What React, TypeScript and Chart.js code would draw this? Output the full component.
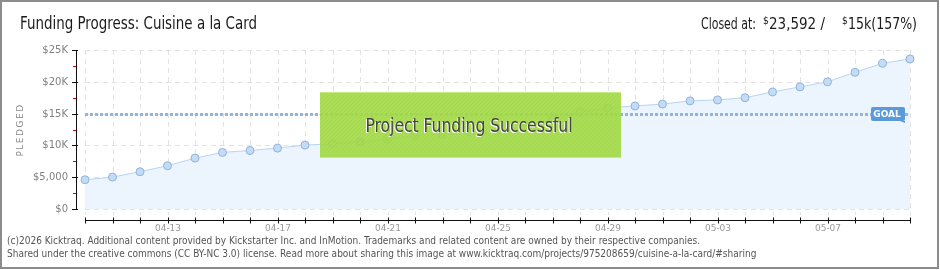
import React, { useEffect, useRef } from "react";
import { Chart, registerables } from "chart.js";

Chart.register(...registerables);

const DATES = [
  "04-10", "04-11", "04-12", "04-13", "04-14", "04-15", "04-16", "04-17",
  "04-18", "04-19", "04-20", "04-21", "04-22", "04-23", "04-24", "04-25",
  "04-26", "04-27", "04-28", "04-29", "04-30", "05-01", "05-02", "05-03",
  "05-04", "05-05", "05-06", "05-07", "05-08", "05-09", "05-10",
];
const PLEDGED = [
  4600, 5020, 5860, 6800, 8000, 8900, 9200, 9570, 10050, 10250, 10550,
  11000, 11550, 11700, 12100, 12100, 13000, 14200, 15300, 15900, 16200,
  16500, 17000, 17150, 17500, 18400, 19200, 20000, 21500, 22900, 23592,
];
const Y_TICKS = [0, 5000, 10000, 15000, 20000, 25000];
const Y_TICK_LABELS = ["$0", "$5,000", "$10K", "$15K", "$20K", "$25K"];
const Y_MINOR_TICKS = [2500, 7500, 12500, 17500, 22500];
const X_TICK_LABELS = ["04-13", "04-17", "04-21", "04-25", "04-29", "05-03", "05-07"];
const GOAL = 15000;
const TITLE = "Funding Progress: Cuisine a la Card";
const CLOSED_LABEL = "Closed at:";
const CLOSED_AMOUNT = "23,592 /";
const GOAL_TEXT = "15k(157%)";
const BANNER = "Project Funding Successful";
const FOOTER = [
  "(c)2026 Kicktraq. Additional content provided by Kickstarter Inc. and InMotion. Trademarks and related content are owned by their respective companies.",
  "Shared under the creative commons (CC BY-NC 3.0) license. Read more about sharing this image at www.kicktraq.com/projects/975208659/cuisine-a-la-card/#sharing",
];

const NARROW = '"Liberation Sans Narrow", "DejaVu Sans Condensed", sans-serif';
const PIX = '"DejaVu Sans", sans-serif';

const decor = {
  id: "decor",
  beforeDatasetsDraw(chart: any) {
    const ctx = chart.ctx;
    const xs = chart.scales.x;
    const ys = chart.scales.y;
    const top = ys.getPixelForValue(25000);
    const bottom = ys.getPixelForValue(0);
    const left = xs.getPixelForValue(0);
    const right = xs.getPixelForValue(DATES.length - 1);
    ctx.save();
    ctx.strokeStyle = "#e2e2e2";
    ctx.lineWidth = 1;
    ctx.setLineDash([5, 4]);
    DATES.forEach((_, i) => {
      const x = Math.round(xs.getPixelForValue(i)) + 0.5;
      ctx.beginPath();
      ctx.moveTo(x, top);
      ctx.lineTo(x, bottom + 6);
      ctx.stroke();
    });
    Y_TICKS.forEach((v) => {
      const y = Math.round(ys.getPixelForValue(v)) + 0.5;
      ctx.beginPath();
      ctx.moveTo(left, y);
      ctx.lineTo(right, y);
      ctx.stroke();
    });
    ctx.restore();
  },
  afterDatasetsDraw(chart: any) {
    const ctx = chart.ctx;
    const xs = chart.scales.x;
    const ys = chart.scales.y;
    const top = ys.getPixelForValue(25000);
    const bottom = ys.getPixelForValue(0);
    const left = xs.getPixelForValue(0);
    const right = xs.getPixelForValue(DATES.length - 1);
    ctx.save();

    // goal line
    const gy = Math.round(ys.getPixelForValue(GOAL));
    ctx.strokeStyle = "#8fb6e2";
    ctx.lineWidth = 3;
    ctx.setLineDash([3, 2]);
    ctx.beginPath();
    ctx.moveTo(left, gy + 0.5);
    ctx.lineTo(right, gy + 0.5);
    ctx.stroke();
    ctx.setLineDash([]);

    // goal label
    ctx.fillStyle = "#5a9ad9";
    ctx.beginPath();
    (ctx as any).roundRect(871, gy - 7, 34, 14, 2);
    ctx.fill();
    ctx.beginPath();
    ctx.moveTo(900, gy + 7);
    ctx.lineTo(905, gy + 7);
    ctx.lineTo(905, gy + 9);
    ctx.closePath();
    ctx.fill();
    ctx.fillStyle = "#ffffff";
    ctx.font = "bold 9px " + PIX;
    ctx.textAlign = "center";
    ctx.textBaseline = "middle";
    ctx.fillText("GOAL", 887, gy + 0.5);

    // y axis
    const ax = 76.5;
    ctx.strokeStyle = "#111";
    ctx.lineWidth = 1;
    ctx.beginPath();
    ctx.moveTo(ax, Math.round(top));
    ctx.lineTo(ax, Math.round(bottom) + 1);
    ctx.stroke();
    Y_TICKS.forEach((v) => {
      const y = Math.round(ys.getPixelForValue(v)) + 0.5;
      ctx.beginPath();
      ctx.moveTo(72, y);
      ctx.lineTo(78, y);
      ctx.stroke();
    });
    ctx.strokeStyle = "#e00000";
    Y_MINOR_TICKS.forEach((v) => {
      const y = Math.round(ys.getPixelForValue(v)) + 0.5;
      ctx.beginPath();
      ctx.moveTo(73, y);
      ctx.lineTo(76, y);
      ctx.stroke();
    });
    ctx.fillStyle = "#808080";
    ctx.font = "10px " + PIX;
    ctx.textAlign = "right";
    ctx.textBaseline = "middle";
    Y_TICKS.forEach((v, i) => {
      ctx.fillText(Y_TICK_LABELS[i], 68, Math.round(ys.getPixelForValue(v)) + 0.5);
    });
    // axis title
    ctx.save();
    ctx.translate(21, 130);
    ctx.rotate(-Math.PI / 2);
    ctx.font = "9px " + PIX;
    ctx.textAlign = "center";
    ctx.fillStyle = "#8a8a8a";
    (ctx as any).letterSpacing = "1.5px";
    ctx.fillText("PLEDGED", 0, 0);
    ctx.restore();

    // x axis
    const xy = 220.5;
    ctx.strokeStyle = "#111";
    ctx.beginPath();
    ctx.moveTo(left, xy);
    ctx.lineTo(right + 1, xy);
    ctx.stroke();
    DATES.forEach((_, i) => {
      const x = Math.round(xs.getPixelForValue(i)) + 0.5;
      ctx.beginPath();
      ctx.moveTo(x, xy - 3);
      ctx.lineTo(x, xy + 3);
      ctx.stroke();
    });
    ctx.fillStyle = "#999";
    ctx.font = "9px " + PIX;
    ctx.textAlign = "center";
    ctx.textBaseline = "middle";
    X_TICK_LABELS.forEach((lab) => {
      const i = DATES.indexOf(lab);
      ctx.fillText(lab, Math.round(xs.getPixelForValue(i)), 229);
    });

    // banner
    const bx = 320, by = 92, bw = 301, bh = 66;
    ctx.fillStyle = "rgba(164,218,72,0.92)";
    ctx.fillRect(bx, by, bw, bh);
    ctx.save();
    ctx.beginPath();
    ctx.rect(bx, by, bw, bh);
    ctx.clip();
    ctx.strokeStyle = "rgba(120,180,40,0.12)";
    ctx.lineWidth = 1;
    for (let k = -bh; k < bw; k += 4) {
      ctx.beginPath();
      ctx.moveTo(bx + k, by + bh);
      ctx.lineTo(bx + k + bh, by);
      ctx.stroke();
    }
    ctx.restore();
    ctx.strokeStyle = "#c4ea86";
    ctx.beginPath();
    ctx.moveTo(bx, by + 0.5);
    ctx.lineTo(bx + bw, by + 0.5);
    ctx.moveTo(bx, by + bh - 0.5);
    ctx.lineTo(bx + bw, by + bh - 0.5);
    ctx.stroke();
    ctx.font = "20px " + NARROW;
    ctx.textAlign = "center";
    ctx.textBaseline = "alphabetic";
    ctx.fillStyle = "#ffffff";
    ctx.fillText(BANNER, 468, 133, 207);
    ctx.fillStyle = "#444";
    ctx.fillText(BANNER, 469, 132, 207);

    // title
    ctx.textAlign = "left";
    ctx.fillStyle = "#1a1a1a";
    ctx.font = "17px " + NARROW;
    ctx.fillText(TITLE, 20, 29, 237);

    // closed at
    ctx.font = "16px " + NARROW;
    ctx.fillText(CLOSED_LABEL, 701, 29, 55);
    ctx.font = "10px " + NARROW;
    ctx.fillText("$", 763, 24);
    ctx.font = "15px " + NARROW;
    ctx.fillText(CLOSED_AMOUNT, 769, 29, 62);
    ctx.font = "10px " + NARROW;
    ctx.fillText("$", 842, 24);
    ctx.font = "15px " + NARROW;
    ctx.fillText(GOAL_TEXT, 848, 29, 69);

    // footer
    ctx.fillStyle = "#555";
    ctx.font = "10px " + NARROW;
    ctx.textBaseline = "middle";
    ctx.fillText(FOOTER[0], 7, 241, 711);
    ctx.fillText(FOOTER[1], 7, 254, 780);

    // frame
    ctx.strokeStyle = "#8c8c8c";
    ctx.lineWidth = 2;
    ctx.strokeRect(1, 1, 937, 267);
    ctx.restore();
  },
};

export default function App() {
  const ref = useRef<HTMLCanvasElement>(null);
  useEffect(() => {
    if (!ref.current) return;
    const chart = new Chart(ref.current, {
      type: "line",
      data: {
        labels: DATES,
        datasets: [
          {
            data: PLEDGED,
            borderColor: "#b7d4f3",
            borderWidth: 1,
            backgroundColor: "#ecf4fd",
            fill: "origin",
            pointRadius: 4,
            pointBackgroundColor: "#c4dbf5",
            pointBorderColor: "#92b3dc",
            pointBorderWidth: 1,
            tension: 0,
            clip: false,
          } as any,
        ],
      },
      options: {
        responsive: false,
        animation: false,
        devicePixelRatio: 1,
        events: [],
        layout: { padding: { left: 85, right: 30, top: 50, bottom: 61 } },
        scales: {
          x: { type: "category", display: false, offset: false },
          y: { type: "linear", display: false, min: 0, max: 25000 },
        },
        plugins: { legend: { display: false }, tooltip: { enabled: false } },
      },
      plugins: [decor],
    });
    return () => chart.destroy();
  }, []);
  return (
    <div style={{ position: "absolute", left: 0, top: 0, width: 940, height: 270, background: "#fff" }}>
      <canvas ref={ref} width={940} height={270} style={{ display: "block", width: 940, height: 270 }} />
    </div>
  );
}
